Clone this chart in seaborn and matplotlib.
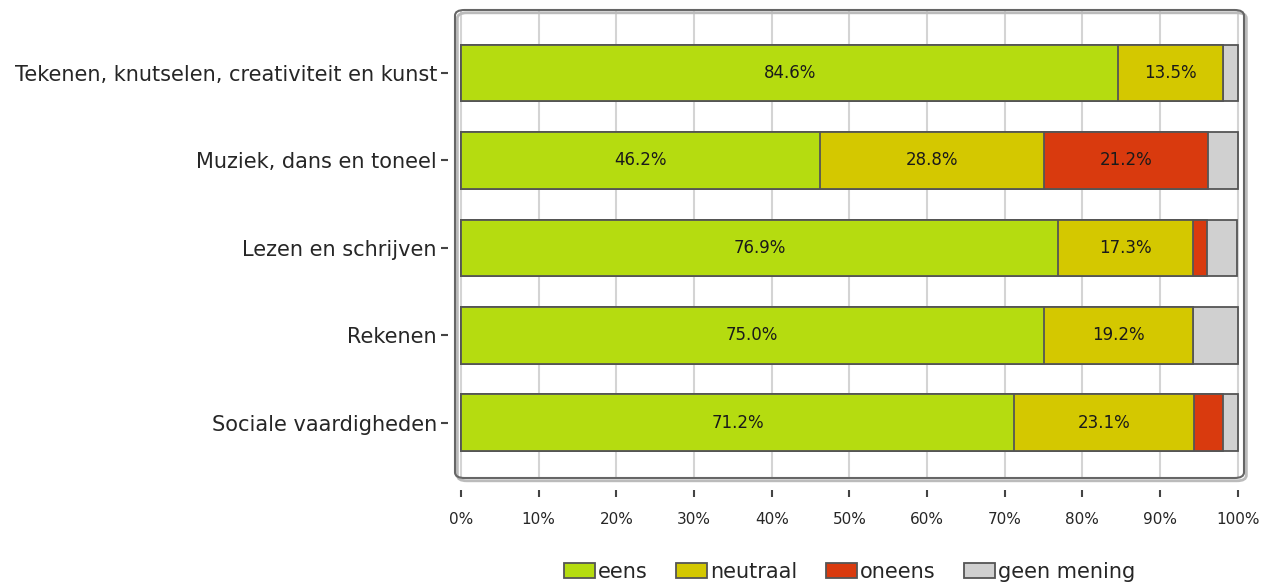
import matplotlib
matplotlib.use("Agg")
import matplotlib.pyplot as plt
import seaborn as sns
import pandas as pd
import numpy as np
from matplotlib.patches import Patch, FancyBboxPatch

categories = ["Tekenen, knutselen, creativiteit en kunst", "Muziek, dans en toneel",
              "Lezen en schrijven", "Rekenen", "Sociale vaardigheden"]
series = ["eens", "neutraal", "oneens", "geen mening"]
eens = [84.6, 46.2, 76.9, 75.0, 71.2]
neutraal = [13.5, 28.8, 17.3, 19.2, 23.1]
oneens = [0.0, 21.2, 1.9, 0.0, 3.8]
geen = [1.9, 3.8, 3.8, 5.8, 1.9]
colors = ["#b5dc10", "#d4c800", "#d93a0e", "#d0d0d0"]
xticks = [0, 10, 20, 30, 40, 50, 60, 70, 80, 90, 100]
xticklabels = [f"{t}%" for t in xticks]

sns.set_theme(style="white")
plt.rcParams['font.family'] = ['DejaVu Sans']

fig = plt.figure(figsize=(12.77, 5.88), dpi=100)
ax = fig.add_axes([455/1277, (588-478)/588, 789/1277, 468/588])

vals = np.array([eens, neutraal, oneens, geen])
cum = np.cumsum(vals, axis=0)
df = pd.DataFrame({"cat": categories})
for k in range(3, -1, -1):
    df["v"] = cum[k]
    sns.barplot(data=df, x="v", y="cat", orient="h", color=colors[k], width=0.65,
                edgecolor="#555555", linewidth=1.3, saturation=1, ax=ax, zorder=3)

lefts = cum - vals
for k in range(4):
    for i in range(len(categories)):
        v = vals[k, i]
        if v >= 10:
            ax.text(lefts[k, i] + v/2, i, f"{v:.1f}%", ha="center", va="center",
                    fontsize=12, color="#1a1a1a", zorder=5)

ax.set_xlim(-0.77, 100.8)
ax.set_ylim(4.63, -0.72)
ax.set_xticks(xticks)
ax.set_xticklabels(xticklabels, fontsize=11.5, color="#333333")
ax.set_xlabel("")
ax.set_ylabel("")
ax.tick_params(axis="y", labelsize=15)
for lab in ax.get_yticklabels():
    lab.set_color("#222222")
ax.grid(axis="x", color="#d4d4d4", linewidth=1.5, zorder=0)
ax.set_axisbelow(True)
for s in ax.spines.values():
    s.set_visible(False)
ax.spines["bottom"].set_position(("outward", 8.6))
ax.spines["left"].set_position(("outward", 5))
ax.tick_params(axis="x", bottom=True, direction="out", length=5, width=1.5, color="#444444", pad=11)
ax.tick_params(axis="y", left=True, direction="out", length=5, width=1.5, color="#444444", pad=3)

shadow = FancyBboxPatch((0.003, -0.006), 1, 1, boxstyle="round,pad=0,rounding_size=0.012",
                        transform=ax.transAxes, facecolor="none", edgecolor="#bbbbbb",
                        linewidth=2, clip_on=False, zorder=1)
ax.add_patch(shadow)
frame = FancyBboxPatch((0, 0), 1, 1, boxstyle="round,pad=0,rounding_size=0.012",
                       transform=ax.transAxes, facecolor="none", edgecolor="#666666",
                       linewidth=1.5, clip_on=False, zorder=6)
ax.add_patch(frame)

handles = [Patch(facecolor=c, edgecolor="#555555", linewidth=1.3, label=s) for c, s in zip(colors, series)]
ax.legend(handles=handles, loc="center", bbox_to_anchor=(0.5, -0.2), ncol=4, frameon=False,
          fontsize=15, handlelength=1.5, handleheight=0.75, handletextpad=0.15, columnspacing=1.35)

fig.savefig("out.png", dpi=100)
